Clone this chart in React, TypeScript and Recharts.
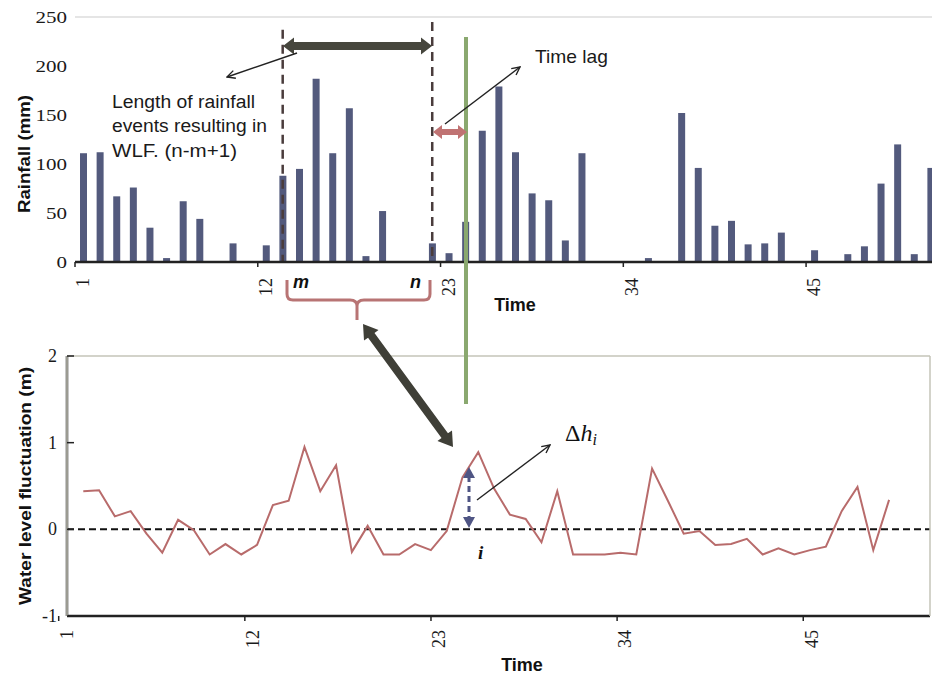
import React from 'react';
import { BarChart, Bar, ComposedChart, Line, XAxis, YAxis, ReferenceLine } from 'recharts';

// time steps (categories)
const TIME = [
  1, 2, 3, 4, 5, 6, 7, 8, 9, 10, 11, 12, 13, 14, 15, 16, 17, 18, 19, 20, 21, 22, 23, 24, 25, 26,
  27, 28, 29, 30, 31, 32, 33, 34, 35, 36, 37, 38, 39, 40, 41, 42, 43, 44, 45, 46, 47, 48, 49, 50, 51, 52,
];
const TIME_TICKS = [1, 12, 23, 34, 45];

// rainfall (mm)
const RAIN = [
  111, 112, 67, 76, 35, 4, 62, 44, 0, 19, 0, 17, 88, 95, 187, 111, 157, 6, 52, 0, 0, 19, 9, 41, 134, 179,
  112, 70, 63, 22, 111, 0, 0, 0, 4, 0, 152, 96, 37, 42, 18, 19, 30, 0, 12, 0, 8, 16, 80, 120, 8, 96,
];
const RAIN_TICKS = [0, 50, 100, 150, 200, 250];

// water level fluctuation (m)
const WLF = [
  0.44, 0.45, 0.15, 0.21, -0.05, -0.27, 0.11, -0.01, -0.29, -0.17, -0.29, -0.18, 0.28, 0.33, 0.95, 0.44,
  0.74, -0.26, 0.04, -0.29, -0.29, -0.17, -0.24, -0.02, 0.6, 0.89, 0.47, 0.17, 0.12, -0.15, 0.44, -0.29,
  -0.29, -0.29, -0.27, -0.29, 0.7, 0.33, -0.05, -0.02, -0.18, -0.17, -0.11, -0.29, -0.22, -0.29, -0.24,
  -0.2, 0.21, 0.49, -0.24, 0.34,
];
const WLF_TICKS = [-1, 0, 1, 2];

// event window (m..n)
const EVENT_START = 13;
const EVENT_END = 22;

const rainData = TIME.map((t, i) => ({ t, rain: RAIN[i] }));
const wlfData = TIME.map((t, i) => ({ t, wlf: WLF[i] }));

const SERIF = "'Liberation Serif', 'Times New Roman', serif";
const SANS = "'Liberation Sans', Arial, sans-serif";
const serifStyle = { fontFamily: SERIF };
const sansStyle = { fontFamily: SANS };
const TOP_HALF_BAND = 8.3;
const BOT_HALF_BAND = 8.3;

const XTick = (props: any) => {
  const { x, y, payload, half, gap } = props;
  return (
    <g>
      <line x1={x - half} x2={x - half} y1={y} y2={y + 5} stroke="#222" strokeWidth={1.5} />
      <text
        transform={`translate(${x},${y + gap}) rotate(-90)`}
        textAnchor="end"
        dominantBaseline="central"
        style={serifStyle}
        fontSize={18}
        fill="#1a1a1a"
      >
        {payload.value}
      </text>
    </g>
  );
};

const TopYTick = (props: any) => {
  const { x, y, payload } = props;
  const s = String(payload.value);
  return (
    <text
      x={x}
      y={y}
      textAnchor="end"
      dominantBaseline="central"
      style={serifStyle}
      fontSize={17}
      fill="#1a1a1a"
      textLength={s.length * 10.5}
      lengthAdjust="spacingAndGlyphs"
    >
      {s}
    </text>
  );
};

const BottomYTick = (props: any) => {
  const { x, y, payload } = props;
  return (
    <g>
      <line x1={x + 10} x2={x + 17} y1={y} y2={y} stroke="#222" strokeWidth={1.5} />
      <text x={x} y={y} textAnchor="end" dominantBaseline="central" style={serifStyle} fontSize={18} fill="#1a1a1a">
        {payload.value}
      </text>
    </g>
  );
};

// block arrow polygon (annotation shapes)
function blockArrow(x1: number, y1: number, x2: number, y2: number, shaft: number, headW: number, headLen: number, both: boolean) {
  const dx = x2 - x1;
  const dy = y2 - y1;
  const L = Math.hypot(dx, dy);
  const ux = dx / L, uy = dy / L;
  const nx = -uy, ny = ux;
  const p = (a: number, b: number) => `${x1 + ux * a + nx * b},${y1 + uy * a + ny * b}`;
  const pts = both
    ? [p(0, 0), p(headLen, headW / 2), p(headLen, shaft / 2), p(L - headLen, shaft / 2), p(L - headLen, headW / 2), p(L, 0),
       p(L - headLen, -headW / 2), p(L - headLen, -shaft / 2), p(headLen, -shaft / 2), p(headLen, -headW / 2)]
    : [p(0, shaft / 2), p(L - headLen, shaft / 2), p(L - headLen, headW / 2), p(L, 0), p(L - headLen, -headW / 2), p(L - headLen, -shaft / 2), p(0, -shaft / 2)];
  return pts.join(' ');
}

const Annotations = () => (
  <svg width={932} height={674} style={{ position: 'absolute', left: 0, top: 0, pointerEvents: 'none' }}>
    <defs>
      <marker id="openHead" viewBox="0 0 10 10" refX="9" refY="5" markerWidth="10" markerHeight="10" markerUnits="userSpaceOnUse" orient="auto">
        <path d="M1,1 L9,5 L1,9" fill="none" stroke="#222" strokeWidth={1.4} />
      </marker>
    </defs>

    {/* axis titles */}
    <text transform="translate(24,154) rotate(-90)" textAnchor="middle" dominantBaseline="central" style={sansStyle} fontWeight="bold" fontSize={17} fill="#111" textLength={118} lengthAdjust="spacingAndGlyphs">
      Rainfall (mm)
    </text>
    <text transform="translate(25,486) rotate(-90)" textAnchor="middle" dominantBaseline="central" style={sansStyle} fontWeight="bold" fontSize={17} fill="#111" textLength={238} lengthAdjust="spacingAndGlyphs">
      Water level fluctuation (m)
    </text>
    <text x={515} y={311} textAnchor="middle" style={sansStyle} fontWeight="bold" fontSize={18} fill="#111">Time</text>
    <text x={522} y={671} textAnchor="middle" style={sansStyle} fontWeight="bold" fontSize={18} fill="#111">Time</text>

    {/* event length annotation */}
    <polygon points={blockArrow(283, 46, 432, 46, 8, 17, 11, true)} fill="#46463d" />
    <line x1={297} y1={53} x2={227} y2={77} stroke="#222" strokeWidth={1.4} markerEnd="url(#openHead)" />
    <g style={sansStyle} fontSize={18} fill="#1a1a1a">
      <text x={112} y={108} textLength={143} lengthAdjust="spacingAndGlyphs">Length of rainfall</text>
      <text x={112} y={132} textLength={155} lengthAdjust="spacingAndGlyphs">events resulting in</text>
      <text x={112} y={157} textLength={125} lengthAdjust="spacingAndGlyphs">WLF. (n-m+1)</text>
    </g>

    {/* time lag */}
    <line x1={466} y1={37} x2={466} y2={404} stroke="#8aa86f" strokeWidth={4} />
    <polygon points={blockArrow(433, 132, 467, 132, 6, 14, 9, true)} fill="#c07373" />
    <line x1={445} y1={124} x2={520} y2={67} stroke="#222" strokeWidth={1.4} markerEnd="url(#openHead)" />
    <text x={535} y={63} style={sansStyle} fontSize={19} fill="#1a1a1a" textLength={73} lengthAdjust="spacingAndGlyphs">Time lag</text>

    {/* m, n and brace */}
    <text x={293} y={288} style={sansStyle} fontWeight="bold" fontStyle="italic" fontSize={18} fill="#111">m</text>
    <text x={410} y={288} style={sansStyle} fontWeight="bold" fontStyle="italic" fontSize={18} fill="#111">n</text>
    <path
      d="M287,280 L287,294 Q287,300 293,300 L350,300 Q357,300 357,306 L357,320 M357,306 Q357,300 364,300 L424,300 Q430,300 430,294 L430,280"
      fill="none"
      stroke="#b87474"
      strokeWidth={3}
    />
    <polygon points={blockArrow(363, 324, 453, 447, 8, 18, 14, true)} fill="#3f3f37" />

    {/* delta h */}
    <line x1={469} y1={476} x2={469} y2={519} stroke="#4f5584" strokeWidth={3} strokeDasharray="6 4" />
    <polygon points="469,467 463,478 475,478" fill="#4f5584" />
    <polygon points="469,528 463,517 475,517" fill="#4f5584" />
    <line x1={477} y1={500} x2={550} y2={445} stroke="#222" strokeWidth={1.4} markerEnd="url(#openHead)" />
    <text x={565} y={441} style={serifStyle} fontSize={24} fill="#111">
      Δ<tspan fontStyle="italic">h</tspan>
      <tspan fontStyle="italic" fontSize={16} dy={4}>i</tspan>
    </text>
    <text x={478} y={559} style={serifStyle} fontWeight="bold" fontStyle="italic" fontSize={19} fill="#111">i</text>
  </svg>
);

export default function App() {
  return (
    <div style={{ position: 'absolute', left: 0, top: 0, width: 932, height: 674, overflow: 'hidden', background: '#fff' }}>
      {/* rainfall */}
      <div style={{ position: 'absolute', left: 0, top: 0 }}>
        <BarChart width={939} height={320} data={rainData} margin={{ top: 17, right: 0, bottom: 0, left: 0 }} barCategoryGap={0}>
          <XAxis
            dataKey="t"
            ticks={TIME_TICKS}
            interval={0}
            height={58}
            tickSize={0}
            tickMargin={0}
            tickLine={false}
            axisLine={{ stroke: '#222', strokeWidth: 2.5 }}
            tick={(p: any) => <XTick {...p} half={TOP_HALF_BAND} gap={16} />}
          />
          <YAxis
            domain={[0, 250]}
            ticks={RAIN_TICKS}
            width={75}
            axisLine={false}
            tickLine={false}
            tickSize={0}
            tickMargin={8}
            tick={(p: any) => <TopYTick {...p} />}
          />
          <ReferenceLine y={250} stroke="#dcdcdc" strokeWidth={1.5} />
          <Bar dataKey="rain" fill="#535a7d" barSize={7} isAnimationActive={false} />
          <ReferenceLine
            segment={[{ x: EVENT_START, y: 237 }, { x: EVENT_START, y: 0 }]}
            stroke="#4a3c3c"
            strokeWidth={2.5}
            strokeDasharray="9 6"
          />
          <ReferenceLine
            segment={[{ x: EVENT_END, y: 245 }, { x: EVENT_END, y: 0 }]}
            stroke="#4a3c3c"
            strokeWidth={2.5}
            strokeDasharray="9 6"
          />
        </BarChart>
      </div>

      {/* water level fluctuation */}
      <div style={{ position: 'absolute', left: 0, top: 0 }}>
        <ComposedChart width={932} height={674} data={wlfData} margin={{ top: 356, right: 1, bottom: 0, left: 0 }}>
          <XAxis
            xAxisId="cat"
            dataKey="t"
            ticks={TIME_TICKS}
            interval={0}
            height={58}
            tickSize={0}
            tickMargin={0}
            tickLine={false}
            axisLine={{ stroke: '#222', strokeWidth: 2.5 }}
            tick={(p: any) => <XTick {...p} half={BOT_HALF_BAND} gap={14} />}
          />
          <XAxis xAxisId="pts" dataKey="t" type="number" domain={[-0.03, 54.59]} allowDataOverflow hide />
          <YAxis
            domain={[-1, 2]}
            ticks={WLF_TICKS}
            width={67}
            axisLine={{ stroke: '#c4c4b8', strokeWidth: 1.5 }}
            tickLine={false}
            tickSize={0}
            tickMargin={10}
            tick={(p: any) => <BottomYTick {...p} />}
          />
          <YAxis yAxisId="r" orientation="right" domain={[0, 1]} width={1} tick={false} tickLine={false} axisLine={{ stroke: '#c4c4b8', strokeWidth: 1.5 }} />
          <ReferenceLine xAxisId="cat" y={2} stroke="#c4c4b8" strokeWidth={1.5} />
          <ReferenceLine xAxisId="cat" x={1} stroke="#222" strokeWidth={2.5} />
          <ReferenceLine xAxisId="cat" y={0} stroke="#111" strokeWidth={2} strokeDasharray="7 4" />
          <Line
            xAxisId="pts"
            dataKey="wlf"
            type="linear"
            stroke="#b86b6b"
            strokeWidth={2}
            dot={false}
            isAnimationActive={false}
          />
        </ComposedChart>
      </div>

      <Annotations />
    </div>
  );
}
